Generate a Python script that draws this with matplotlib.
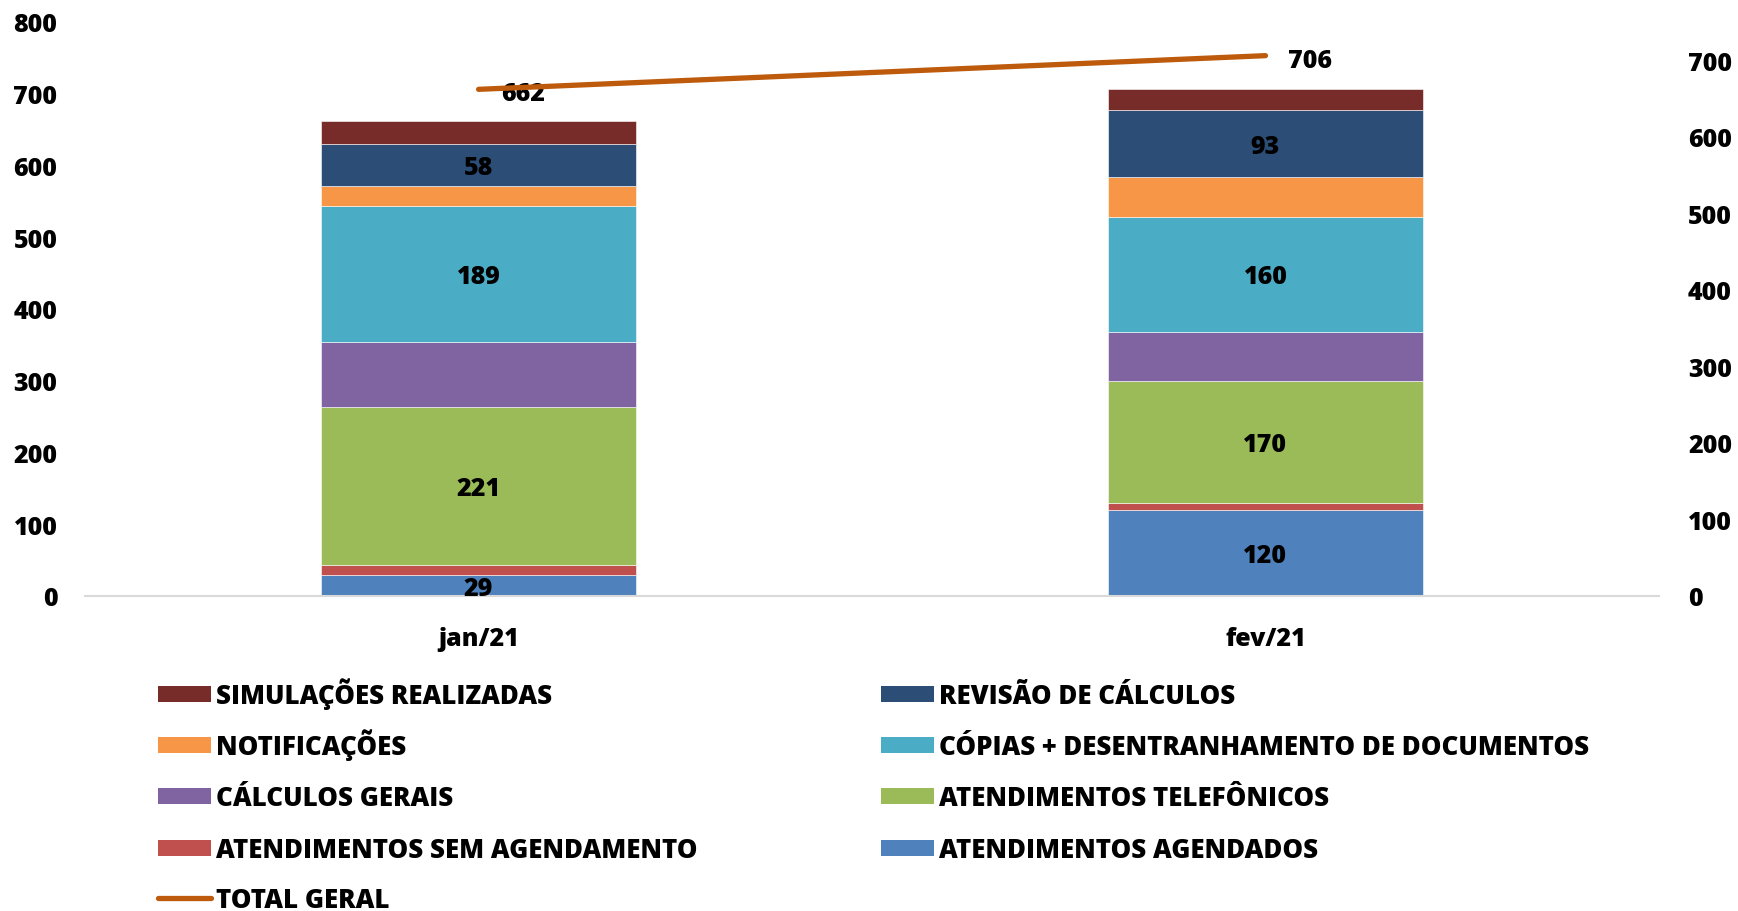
import numpy as np
import matplotlib
matplotlib.use("Agg")
import matplotlib.pyplot as plt
from matplotlib.patches import Rectangle
from matplotlib.lines import Line2D

plt.rcParams['font.family'] = ['Open Sans', 'DejaVu Sans']
plt.rcParams['font.weight'] = 800

meses = ['jan/21', 'fev/21']

# series from bottom to top of each stack
series = ['ATENDIMENTOS AGENDADOS', 'ATENDIMENTOS SEM AGENDAMENTO',
          'ATENDIMENTOS TELEFÔNICOS', 'CÁLCULOS GERAIS',
          'CÓPIAS + DESENTRANHAMENTO DE DOCUMENTOS', 'NOTIFICAÇÕES',
          'REVISÃO DE CÁLCULOS', 'SIMULAÇÕES REALIZADAS']
agendados = [29, 120]
sem_agendamento = [14, 9]
telefonicos = [221, 170]
calculos_gerais = [90, 69]
copias = [189, 160]
notificacoes = [29, 56]
revisao = [58, 93]
simulacoes = [32, 29]
total_geral = [662, 706]

valores = [agendados, sem_agendamento, telefonicos, calculos_gerais,
           copias, notificacoes, revisao, simulacoes]
cores = ['#4F81BD', '#C0504D', '#9BBB59', '#8064A2',
         '#4BACC6', '#F79646', '#2C4D75', '#772C2A']
com_rotulo = [True, False, True, False, True, False, True, False]
cor_total = '#BD5A0B'

W, H = 1738, 912
fig = plt.figure(figsize=(W / 100, H / 100), dpi=100)
ax = fig.add_axes([0.049, 0.3454, 0.9055, 0.6294])
ax2 = ax.twinx()

# half the cap height, so numbers sit centred on their point
meia_caixa = -0.357 * 18

x = np.arange(len(meses))
base = np.zeros(len(meses))
for nome, v, c, rot in zip(series, valores, cores, com_rotulo):
    v = np.array(v, dtype=float)
    ax.bar(x, v, 0.40, bottom=base, color=c, edgecolor='white',
           linewidth=0.4, label=nome, zorder=2)
    if rot:
        for xi, b, vi in zip(x, base, v):
            ax.annotate(f'{int(vi)}', (xi, b + vi / 2), xytext=(0, meia_caixa),
                        textcoords='offset points', ha='center', va='baseline',
                        fontsize=18, fontweight=800, color='black', zorder=3)
    base += v

ax2.plot(x, total_geral, color=cor_total, linewidth=3.8,
         solid_capstyle='round', zorder=4)
for xi, t in zip(x, total_geral):
    ax2.annotate(f'{t}', (xi, t), xytext=(16, meia_caixa - 1.5),
                 textcoords='offset points', ha='left', va='baseline',
                 fontsize=18, fontweight=800)

ax.set_xlim(-0.5, 1.5)
ax.set_ylim(0, 800)
ax.set_yticks(np.arange(0, 801, 100))
ax2.set_ylim(0, 750)
ax2.set_yticks(np.arange(0, 701, 100))
ax.set_xticks(x)
ax.set_xticklabels(meses)

for a in (ax, ax2):
    for s in a.spines.values():
        s.set_visible(False)
    a.tick_params(length=0, labelsize=18)
ax.spines['bottom'].set_visible(True)
ax.spines['bottom'].set_color('#D9D9D9')
ax.spines['bottom'].set_linewidth(1.5)
ax.tick_params(axis='x', pad=21.5)
ax.tick_params(axis='y', pad=20)
ax2.tick_params(axis='y', pad=21)
ax2.set_zorder(ax.get_zorder() + 1)
ax2.patch.set_visible(False)

# legend drawn by hand: two columns filled row by row
ordem = ['SIMULAÇÕES REALIZADAS', 'REVISÃO DE CÁLCULOS',
         'NOTIFICAÇÕES', 'CÓPIAS + DESENTRANHAMENTO DE DOCUMENTOS',
         'CÁLCULOS GERAIS', 'ATENDIMENTOS TELEFÔNICOS',
         'ATENDIMENTOS SEM AGENDAMENTO', 'ATENDIMENTOS AGENDADOS',
         'TOTAL GERAL']
cor_de = dict(zip(series, cores))
col_x = [158, 881]
row_y = [695, 746, 797, 849, 899]
tam_leg = 18.6
for i, nome in enumerate(ordem):
    px = col_x[i % 2]
    py = row_y[i // 2]
    fx, fy = px / W, 1 - py / H
    if nome == 'TOTAL GERAL':
        fig.add_artist(Line2D([fx, fx + 53 / W], [fy, fy], color=cor_total,
                              linewidth=3.8, solid_capstyle='round',
                              transform=fig.transFigure))
    else:
        fig.add_artist(Rectangle((fx, fy - 8 / H), 53 / W, 16 / H,
                                 facecolor=cor_de[nome], edgecolor='none',
                                 transform=fig.transFigure))
    desce = 0.357 * tam_leg * 100 / 72
    fig.text(fx + 58 / W, fy - desce / H, nome, ha='left', va='baseline',
             fontsize=tam_leg, fontweight=800)

fig.savefig('out.png', dpi=100)
